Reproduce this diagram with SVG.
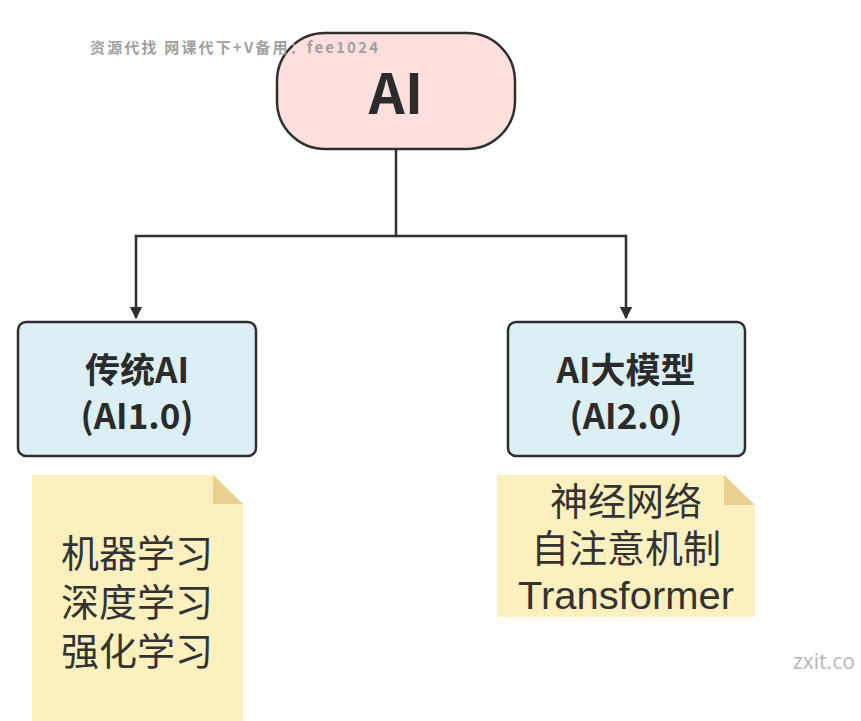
<svg xmlns="http://www.w3.org/2000/svg" width="861" height="721" viewBox="0 0 861 721">
<style>
.node{stroke:#2f2f2f;stroke-width:2.5}
.bold{font-family:"Noto Sans CJK SC","Liberation Sans",sans-serif;font-weight:bold;fill:#2b2b2b;text-anchor:middle}
.note{font-family:"Liberation Sans","Noto Sans CJK SC",sans-serif;fill:#333;text-anchor:middle;font-size:38px}
.conn{fill:none;stroke:#2f2f2f;stroke-width:2.5}
</style>
<defs>
<marker id="arr" viewBox="0 0 10 10" refX="9" refY="5" markerWidth="5" markerHeight="5" orient="auto" markerUnits="strokeWidth">
<path d="M0,0 L10,5 L0,10 z" fill="#2f2f2f"/>
</marker>
</defs>
<rect width="861" height="721" fill="#ffffff"/>
<g id="connectors">
<path class="conn" d="M396,150 V236 H136 V318" marker-end="url(#arr)"/>
<path class="conn" d="M396,236 H626 V318" marker-end="url(#arr)"/>
</g>
<g id="node-ai">
<rect class="node" x="277" y="33" width="238" height="116" rx="48" fill="#fde0dd"/>
<text class="bold" x="396" y="114" font-size="56">AI</text>
</g>
<g id="node-traditional">
<rect class="node" x="18" y="322" width="238" height="134" rx="8" fill="#dbeff5"/>
<text class="bold" font-size="35"><tspan x="137" y="383">传统AI</tspan><tspan x="137" y="429">(AI1.0)</tspan></text>
</g>
<g id="node-llm">
<rect class="node" x="508" y="322" width="237" height="134" rx="8" fill="#dbeff5"/>
<text class="bold" font-size="35"><tspan x="626" y="383">AI大模型</tspan><tspan x="626" y="429">(AI2.0)</tspan></text>
</g>
<g id="note-traditional">
<path d="M32,475 H213 L243,504 V721 H32 Z" fill="#fdf0bf"/>
<path d="M213,475 L243,504 H213 Z" fill="#e9d08e"/>
<text class="note"><tspan x="137" y="567">机器学习</tspan><tspan x="137" y="616">深度学习</tspan><tspan x="137" y="665">强化学习</tspan></text>
</g>
<g id="note-llm">
<path d="M497,475 H724 L755,505 V617 H497 Z" fill="#fdf0bf"/>
<path d="M724,475 L755,505 H724 Z" fill="#e9d08e"/>
<text class="note"><tspan x="626" y="515">神经网络</tspan><tspan x="626" y="562">自注意机制</tspan><tspan x="626" y="609" textLength="216" lengthAdjust="spacingAndGlyphs">Transformer</tspan></text>
</g>
<text x="90" y="53" font-family="'Noto Sans CJK SC','Liberation Mono',monospace" font-size="15" font-weight="bold" fill="#a0a0a0" textLength="288" lengthAdjust="spacing">资源代找 网课代下+V备用：fee1024</text>
<text x="793" y="669" font-family="'Open Sans','Liberation Sans',sans-serif" font-size="21" fill="#b5b5b5">zxit.co</text>
</svg>
